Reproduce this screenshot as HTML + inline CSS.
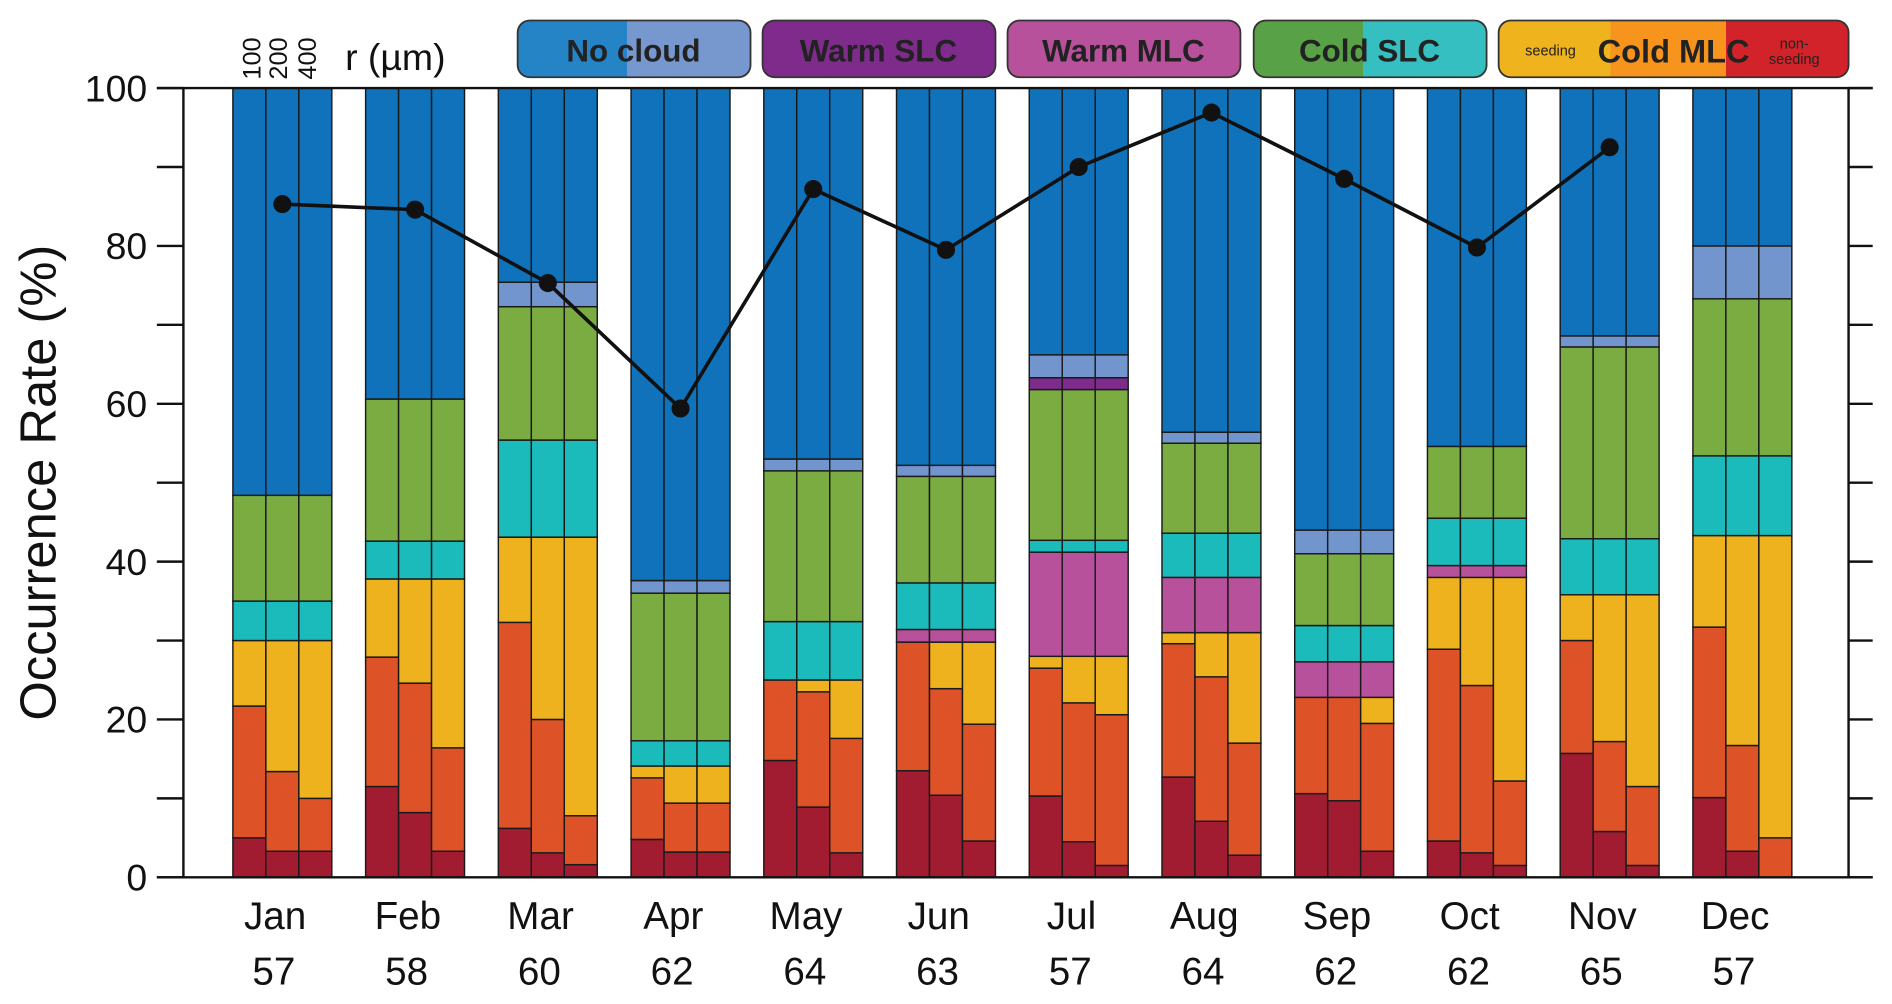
<!DOCTYPE html>
<html><head><meta charset="utf-8"><style>
html,body{margin:0;padding:0;background:#fff;}
svg{display:block;font-family:"Liberation Sans",Arial,sans-serif;}
</style></head><body>
<svg id="chart" width="1892" height="1004" viewBox="0 0 1568 832" preserveAspectRatio="none" xmlns="http://www.w3.org/2000/svg">
<defs>
<linearGradient id="gNo" x1="0" x2="1" y1="0" y2="0"><stop offset="0.47" stop-color="#2484c6"/><stop offset="0.47" stop-color="#7797cf"/></linearGradient>
<linearGradient id="gCs" x1="0" x2="1" y1="0" y2="0"><stop offset="0.47" stop-color="#58a146"/><stop offset="0.47" stop-color="#35bfc1"/></linearGradient>
<linearGradient id="gCm" x1="0" x2="1" y1="0" y2="0"><stop offset="0.32" stop-color="#efb31e"/><stop offset="0.32" stop-color="#f7941d"/><stop offset="0.65" stop-color="#f7941d"/><stop offset="0.65" stop-color="#d2232a"/></linearGradient>
</defs>
<g id="legend">
<g><rect x="429" y="17" width="193" height="47" rx="10" fill="url(#gNo)" stroke="#333" stroke-width="1.5"/><text x="525" y="51" text-anchor="middle" font-size="26" font-weight="bold" fill="#222">No cloud</text></g>
<g><rect x="632" y="17" width="193" height="47" rx="10" fill="#7e2b8c" stroke="#333" stroke-width="1.5"/><text x="728" y="51" text-anchor="middle" font-size="26" font-weight="bold" fill="#222">Warm SLC</text></g>
<g><rect x="835" y="17" width="193" height="47" rx="10" fill="#b8519c" stroke="#333" stroke-width="1.5"/><text x="931" y="51" text-anchor="middle" font-size="26" font-weight="bold" fill="#222">Warm MLC</text></g>
<g><rect x="1039" y="17" width="193" height="47" rx="10" fill="url(#gCs)" stroke="#333" stroke-width="1.5"/><text x="1135" y="51" text-anchor="middle" font-size="26" font-weight="bold" fill="#222">Cold SLC</text></g>
<g><rect x="1242" y="17" width="290" height="47" rx="10" fill="url(#gCm)" stroke="#333" stroke-width="1.5"/><text x="1387" y="52" text-anchor="middle" font-size="27" font-weight="bold" fill="#222">Cold MLC</text>
<text x="1285" y="46" text-anchor="middle" font-size="12" fill="#222">seeding</text><text x="1487" y="40" text-anchor="middle" font-size="12" fill="#222">non-</text><text x="1487" y="53" text-anchor="middle" font-size="12" fill="#222">seeding</text></g>
</g>
<g font-size="21" fill="#111">
<text transform="translate(216,66) rotate(-90)">100</text>
<text transform="translate(238,66) rotate(-90)">200</text>
<text transform="translate(262,66) rotate(-90)">400</text>
<text x="286" y="58" font-size="31">r (µm)</text>
</g>
<text transform="translate(46,400) rotate(-90)" text-anchor="middle" font-size="42" fill="#111">Occurrence Rate (%)</text>
<g id="plot"></g>
</svg>
<script>
const months=["Jan","Feb","Mar","Apr","May","Jun","Jul","Aug","Sep","Oct","Nov","Dec"];
const counts=[57,58,60,62,64,63,57,64,62,62,65,57];
const nonSeedTop=[[5,3.3,3.3],[11.5,8.2,3.3],[6.2,3.1,1.6],[4.8,3.2,3.2],[14.8,8.9,3.1],[13.5,10.4,4.6],[10.3,4.5,1.5],[12.7,7.1,2.8],[10.6,9.7,3.3],[4.6,3.1,1.5],[15.7,5.8,1.5],[10.1,3.3,0]];
const mixedTop=[[21.7,13.4,10],[27.9,24.6,16.4],[32.3,20,7.8],[12.6,9.4,9.4],[25,23.5,17.6],[29.8,23.9,19.4],[26.5,22.1,20.6],[29.6,25.4,17],[22.8,22.8,19.5],[28.9,24.3,12.2],[30,17.2,11.5],[31.7,16.7,5]];
const seedTop=[30,37.8,43.1,14.1,25,29.8,28,31,22.8,38,35.8,43.3];
const warmMlcTop=[30,37.8,43.1,14.1,25,31.4,41.2,38,27.3,39.5,35.8,43.3];
const coldCyanTop=[35,42.6,55.4,17.3,32.4,37.3,42.7,43.6,31.9,45.5,42.9,53.4];
const coldGreenTop=[48.4,60.6,72.3,36,51.5,50.8,61.8,55,41,54.6,67.2,73.3];
const warmSlcTop=[48.4,60.6,72.3,36,51.5,50.8,63.3,55,41,54.6,67.2,73.3];
const noCloudLightTop=[48.4,60.6,75.4,37.6,53,52.2,66.2,56.4,44,54.6,68.6,80];
const lineValues=[85.3,84.6,75.3,59.4,87.2,79.5,90,96.9,88.5,79.8,92.5,null];
const yTicks=[0,10,20,30,40,50,60,70,80,90,100];

const NS="http://www.w3.org/2000/svg";
const plot=document.getElementById('plot');
const X0=152,X1=1532,Y0=727,Y100=73;
const y=v=>Y0-(Y0-Y100)*v/100;
const gx=i=>234+110*i;
const BW=27.33;
function mk(tag,attrs,parent){const e=document.createElementNS(NS,tag);for(const k in attrs)e.setAttribute(k,attrs[k]);(parent||plot).appendChild(e);return e;}

const colors=["#a11c31","#dd5327","#eeb21e","#b8519c","#1bbbbb","#7aac42","#7e2b8c","#7195cc","#0f72bb"];
const segNames=["non-seeding","mixed","seeding","warm-mlc","cold-slc-cyan","cold-slc-green","warm-slc","no-cloud-light","no-cloud"];
months.forEach((m,i)=>{
  const g=mk('g',{});
  
  
  for(let b=0;b<3;b++){
    const tops=[nonSeedTop[i][b],mixedTop[i][b],seedTop[i],warmMlcTop[i],coldCyanTop[i],coldGreenTop[i],warmSlcTop[i],noCloudLightTop[i],100];
    let prev=0;
    const bx=gx(i)-41+b*BW;
    tops.forEach((t,s)=>{
      if(t-prev>0.01){
        const r=mk('rect',{x:bx,y:y(t),width:BW,height:y(prev)-y(t),fill:colors[s],stroke:"#1a1a1a","stroke-width":1.2},g);
        
        
      }
      prev=Math.max(prev,t);
    });
  }
  const t1=mk('text',{x:gx(i)-6,y:770,"text-anchor":"middle","font-size":32,fill:"#111"});
  t1.textContent=m;
  
  
  const t2=mk('text',{x:gx(i)-7,y:816,"text-anchor":"middle","font-size":32,fill:"#111"});
  t2.textContent=counts[i];
  
  
});
const ax=mk('g',{stroke:"#111","stroke-width":2});


mk('line',{x1:X0,y1:Y100,x2:X0,y2:Y0},ax);
mk('line',{x1:X1,y1:Y100,x2:X1,y2:Y0},ax);
mk('line',{x1:130,y1:Y100,x2:1552,y2:Y100},ax);
mk('line',{x1:130,y1:Y0,x2:1552,y2:Y0},ax);
yTicks.forEach(v=>{
  mk('line',{x1:130,y1:y(v),x2:X0,y2:y(v)},ax);
  mk('line',{x1:X1,y1:y(v),x2:1552,y2:y(v)},ax);
  if(v%20===0){
    const t=mk('text',{x:122,y:y(v)+11,"text-anchor":"end","font-size":31,fill:"#111"});
    t.textContent=v;
    
    
  }
});
let d="";
lineValues.forEach((v,i)=>{if(v!==null)d+=(d?"L":"M")+gx(i)+","+y(v);});
const ln=mk('path',{d:d,fill:"none",stroke:"#111","stroke-width":3});


lineValues.forEach((v,i)=>{if(v===null)return;
  const c=mk('circle',{cx:gx(i),cy:y(v),r:7.5,fill:"#111"});
  
  
});
</script>
</body></html>
